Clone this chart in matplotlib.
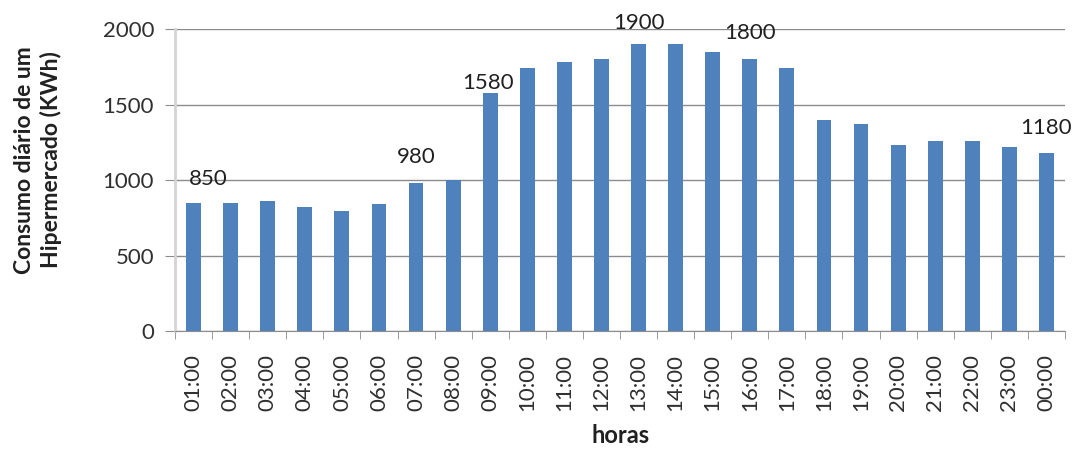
# bar chart of hourly energy use of a hypermarket

import matplotlib.pyplot as plt
import numpy as np

plt.rcParams['font.family'] = ['Lato', 'DejaVu Sans']

horas = ['01:00', '02:00', '03:00', '04:00', '05:00', '06:00', '07:00', '08:00',
         '09:00', '10:00', '11:00', '12:00', '13:00', '14:00', '15:00', '16:00',
         '17:00', '18:00', '19:00', '20:00', '21:00', '22:00', '23:00', '00:00']
consumo = [850, 850, 860, 820, 800, 845, 980, 1000,
           1580, 1745, 1785, 1800, 1900, 1900, 1850, 1800,
           1745, 1400, 1370, 1235, 1260, 1260, 1220, 1180]

# bars that carry a value label, with the label offset in pixels (dx, dy)
rotulos = {0: (15, 18), 6: (0, 20), 8: (-2, 4), 12: (0, 15), 15: (0, 20), 23: (0, 19)}

fig = plt.figure(figsize=(10.79, 4.49), dpi=100)
ax = fig.add_axes([0.1622, 0.2617, 0.8248, 0.6737])

index = np.arange(len(horas))
ax.bar(index, consumo, 0.4, color='#4f81bd', zorder=2)

ax.set_xlim(-0.5, len(horas) - 0.5)
ax.set_ylim(0, 2000)
ax.set_yticks([0, 500, 1000, 1500, 2000])
ax.yaxis.grid(True, color='#8c8c8c', linewidth=1)
ax.set_axisbelow(True)

ax.set_xticks(index)
ax.set_xticklabels(horas, rotation=90)
ax.set_xticks(np.arange(-0.5, len(horas)), minor=True)
ax.tick_params(axis='x', which='major', length=0, pad=16, labelsize=16, labelcolor='#303030')
ax.tick_params(axis='x', which='minor', length=6, color='#8c8c8c', direction='out')
ax.tick_params(axis='y', length=7, color='#8c8c8c', labelsize=16, labelcolor='#303030', pad=8)

for side in ['top', 'right']:
    ax.spines[side].set_visible(False)
ax.spines['left'].set_color('#d4d4d4')
ax.spines['left'].set_linewidth(2)
ax.spines['bottom'].set_color('#8c8c8c')

for i, (dx, dy) in rotulos.items():
    ax.annotate(str(consumo[i]), (index[i], consumo[i]), xytext=(dx, dy),
                textcoords='offset pixels', ha='center', va='baseline',
                fontsize=16, color='#202020', annotation_clip=False)

fig.text(0.035, 0.644, 'Consumo diário de um\nHipermercado (KWh)', rotation=90,
         ha='center', va='center', multialignment='center',
         fontsize=16.5, fontweight='bold', color='#202020', linespacing=1.3)
fig.text(0.575, 0.029, 'horas', ha='center', va='center',
         fontsize=17, fontweight='bold', color='#202020')

fig.savefig('out.png', dpi=100, transparent=False)
